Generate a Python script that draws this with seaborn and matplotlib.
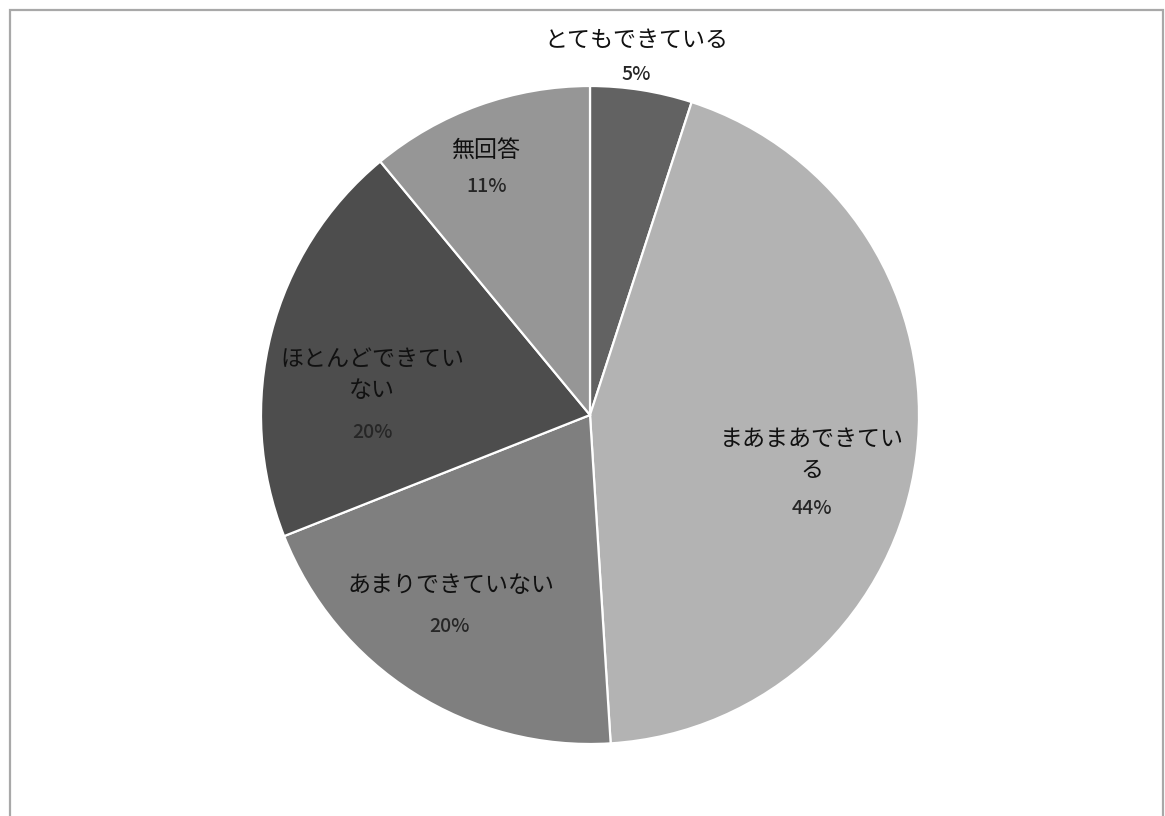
import matplotlib
matplotlib.use("Agg")
import matplotlib.pyplot as plt
from matplotlib.patches import Rectangle
import seaborn as sns

# Survey answers and their shares (%)
categories = ["とてもできている", "まあまあできている", "あまりできていない", "ほとんどできていない", "無回答"]
label_text = ["とてもできている", "まあまあできてい\nる", "あまりできていない", "ほとんどできてい\nない", "無回答"]
shares = [5, 44, 20, 20, 11]
colors = ["#626262", "#b3b3b3", "#7f7f7f", "#4d4d4d", "#969696"]

# Label anchor positions in pixel space (name block centre, percent line)
name_xy = [(636, 40), (812, 455), (451, 585), (372, 375), (486, 150)]
pct_xy = [(636, 74), (812, 508), (449, 626), (372, 433), (487, 186)]

sns.set_theme(style="white")
plt.rcParams["font.family"] = ["Noto Sans CJK JP", "DejaVu Sans"]

W, H = 1165, 816
fig = plt.figure(figsize=(W / 100, H / 100), dpi=100)
fig.patch.set_facecolor("white")

cx, cy, R = 590, 415, 329
ax = fig.add_axes([(cx - R) / W, (H - cy - R) / H, 2 * R / W, 2 * R / H])

ax.pie(
    shares,
    colors=colors,
    startangle=90,
    counterclock=False,
    radius=1.0,
    wedgeprops=dict(edgecolor="white", linewidth=1.6),
)
ax.set_xlim(-1, 1)
ax.set_ylim(-1, 1)
ax.set_aspect("equal")
ax.axis("off")


def to_data(px, py):
    return (px - cx) / R, (cy - py) / R


for txt, val, nxy, pxy in zip(label_text, shares, name_xy, pct_xy):
    nx, ny = to_data(*nxy)
    px_, py_ = to_data(*pxy)
    ax.text(nx, ny, txt, ha="center", va="center", fontsize=16.6,
            color="#111111", linespacing=1.45, clip_on=False)
    ax.text(px_, py_, f"{val}%", ha="center", va="center", fontsize=14,
            fontweight="medium", color="#262626", clip_on=False)

# Chart-area frame (open at the bottom edge)
fig.add_artist(Rectangle((9.5 / W, -0.02), (1163 - 9.5) / W, 1.02 - 9.5 / H,
                         transform=fig.transFigure, fill=False,
                         edgecolor="#a8a8a8", linewidth=1.6))

fig.savefig("out.png", dpi=100, facecolor="white")
